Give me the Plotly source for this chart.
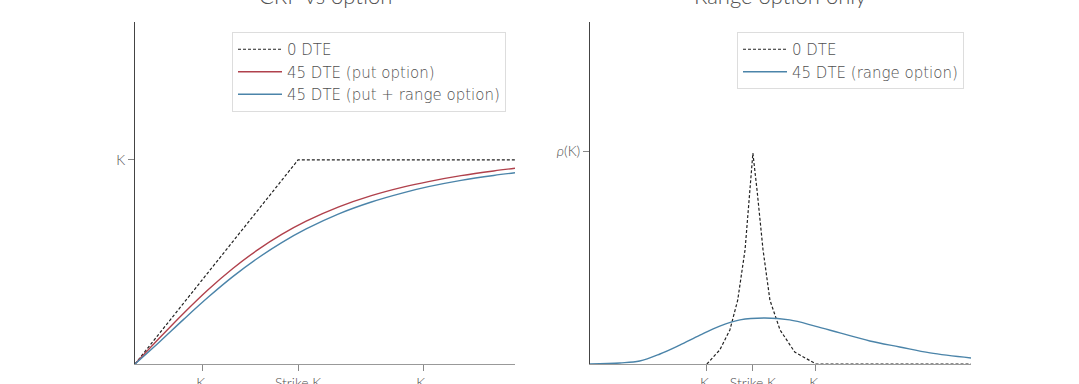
import plotly.graph_objects as go

W, H = 1079, 384

# ---- Left panel data (strike K = 100) ----
left_x_tick_vals = [41.7, 100, 176.7]
left_x_tick_text = ["K₁", "Strike K", "K₂"]
left_y_tick_vals = [100]
left_y_tick_text = ["K"]

payoff_x = [0, 100, 233.1]
payoff_y = [0, 100, 100]

put_x = [0, 15, 30, 45, 60, 75, 90, 105, 125, 145, 165, 180, 200, 220, 233.1]
put_y = [0, 12.7, 25.0, 36.5, 46.8, 55.8, 63.5, 70.0, 77.0, 82.5, 86.8, 89.4, 92.3, 94.6, 95.9]
put_range_y = [0, 10.8, 22.0, 32.8, 42.8, 51.7, 59.5, 66.2, 73.6, 79.4, 84.0, 86.9, 90.0, 92.4, 93.7]

# ---- Right panel data ----
right_x_tick_vals = [90, 100, 113.7]
right_x_tick_text = ["K₁", "Strike K", "K₂"]
right_y_tick_vals = [1.0]
right_y_tick_text = ["<i>ρ</i>(K)"]

range0_x = [90, 92.8, 95, 96.7, 98.3, 99.3, 100, 100.9, 102.2, 103.7, 105.9, 109.1, 113.7, 147.4]
range0_y = [0, 0.066, 0.16, 0.30, 0.537, 0.817, 0.99, 0.817, 0.537, 0.30, 0.16, 0.056, 0, 0]

range45_x = [64.6, 71.1, 75.4, 79.8, 84.1, 88.5, 92.8, 97.2, 102.6, 108.0, 113.5, 118.9, 125.4, 131.9, 138.5, 147.4]
range45_y = [0, 0.005, 0.014, 0.047, 0.089, 0.136, 0.178, 0.207, 0.216, 0.207, 0.178, 0.146, 0.108, 0.080, 0.052, 0.028]

RED = "#b0414c"
BLUE = "#4b84a9"
FONT = "Lato"
LEGFONT = "DejaVu Sans"
TXT = "#505050"

fig = go.Figure()

dash = "3px,2px"
fig.add_trace(go.Scatter(x=payoff_x, y=payoff_y, mode="lines", name="0 DTE",
                         line=dict(color="#222222", width=1.2, dash=dash),
                         xaxis="x", yaxis="y", legend="legend"))
fig.add_trace(go.Scatter(x=put_x, y=put_y, mode="lines", name="45 DTE (put option)",
                         line=dict(color=RED, width=1.4, shape="spline"),
                         xaxis="x", yaxis="y", legend="legend"))
fig.add_trace(go.Scatter(x=put_x, y=put_range_y, mode="lines", name="45 DTE (put + range option)",
                         line=dict(color=BLUE, width=1.4, shape="spline"),
                         xaxis="x", yaxis="y", legend="legend"))

fig.add_trace(go.Scatter(x=range0_x, y=range0_y, mode="lines", name="0 DTE",
                         line=dict(color="#222222", width=1.2, dash=dash),
                         xaxis="x2", yaxis="y2", legend="legend2"))
fig.add_trace(go.Scatter(x=range45_x, y=range45_y, mode="lines", name="45 DTE (range option)",
                         line=dict(color=BLUE, width=1.4, shape="spline"),
                         xaxis="x2", yaxis="y2", legend="legend2"))

ydom = [(H - 364) / H, (H - 22) / H]

axis_common = dict(showgrid=False, zeroline=False, ticks="outside", ticklen=6,
                   tickcolor="#888888",
                   tickfont=dict(family=FONT, size=14, color=TXT, weight=300),
                   showline=True, automargin=False, fixedrange=True)

legend_font = dict(family=LEGFONT, size=15, color=TXT, weight=200)

fig.update_layout(
    width=W, height=H,
    margin=dict(l=0, r=0, t=0, b=0),
    paper_bgcolor="white", plot_bgcolor="white",
    font=dict(family=FONT, color=TXT),
    xaxis=dict(domain=[135 / W, 515 / W], range=[0, 233.1], anchor="y",
               tickvals=left_x_tick_vals, ticktext=left_x_tick_text,
               linecolor="#999999", **axis_common),
    yaxis=dict(domain=ydom, range=[0, 167.6], anchor="x",
               tickvals=left_y_tick_vals, ticktext=left_y_tick_text,
               linecolor="#444444", **axis_common),
    xaxis2=dict(domain=[590 / W, 971 / W], range=[64.6, 147.4], anchor="y2",
                tickvals=right_x_tick_vals, ticktext=right_x_tick_text,
                linecolor="#999999", **axis_common),
    yaxis2=dict(domain=ydom, range=[0, 1.606], anchor="x2",
                tickvals=right_y_tick_vals, ticktext=right_y_tick_text,
                linecolor="#444444", **axis_common),
    legend=dict(x=232 / W, y=(H - 32) / H, xanchor="left", yanchor="top",
                bgcolor="white", bordercolor="#dddddd", borderwidth=1,
                font=legend_font, itemwidth=44, tracegroupgap=0),
    legend2=dict(x=737 / W, y=(H - 32) / H, xanchor="left", yanchor="top",
                 bgcolor="white", bordercolor="#dddddd", borderwidth=1,
                 font=legend_font, itemwidth=44, tracegroupgap=0),
    annotations=[
        dict(text="CRP vs option", x=325 / W, y=(H - 11) / H, xref="paper", yref="paper",
             xanchor="center", yanchor="bottom", showarrow=False,
             font=dict(family=FONT, size=22, color=TXT, weight=300)),
        dict(text="Range option only", x=780 / W, y=(H - 11) / H, xref="paper", yref="paper",
             xanchor="center", yanchor="bottom", showarrow=False,
             font=dict(family=FONT, size=22, color=TXT, weight=300)),
    ],
)

fig.write_html("out.html", config={"displayModeBar": False},
               post_script="document.body.style.margin='0';")
